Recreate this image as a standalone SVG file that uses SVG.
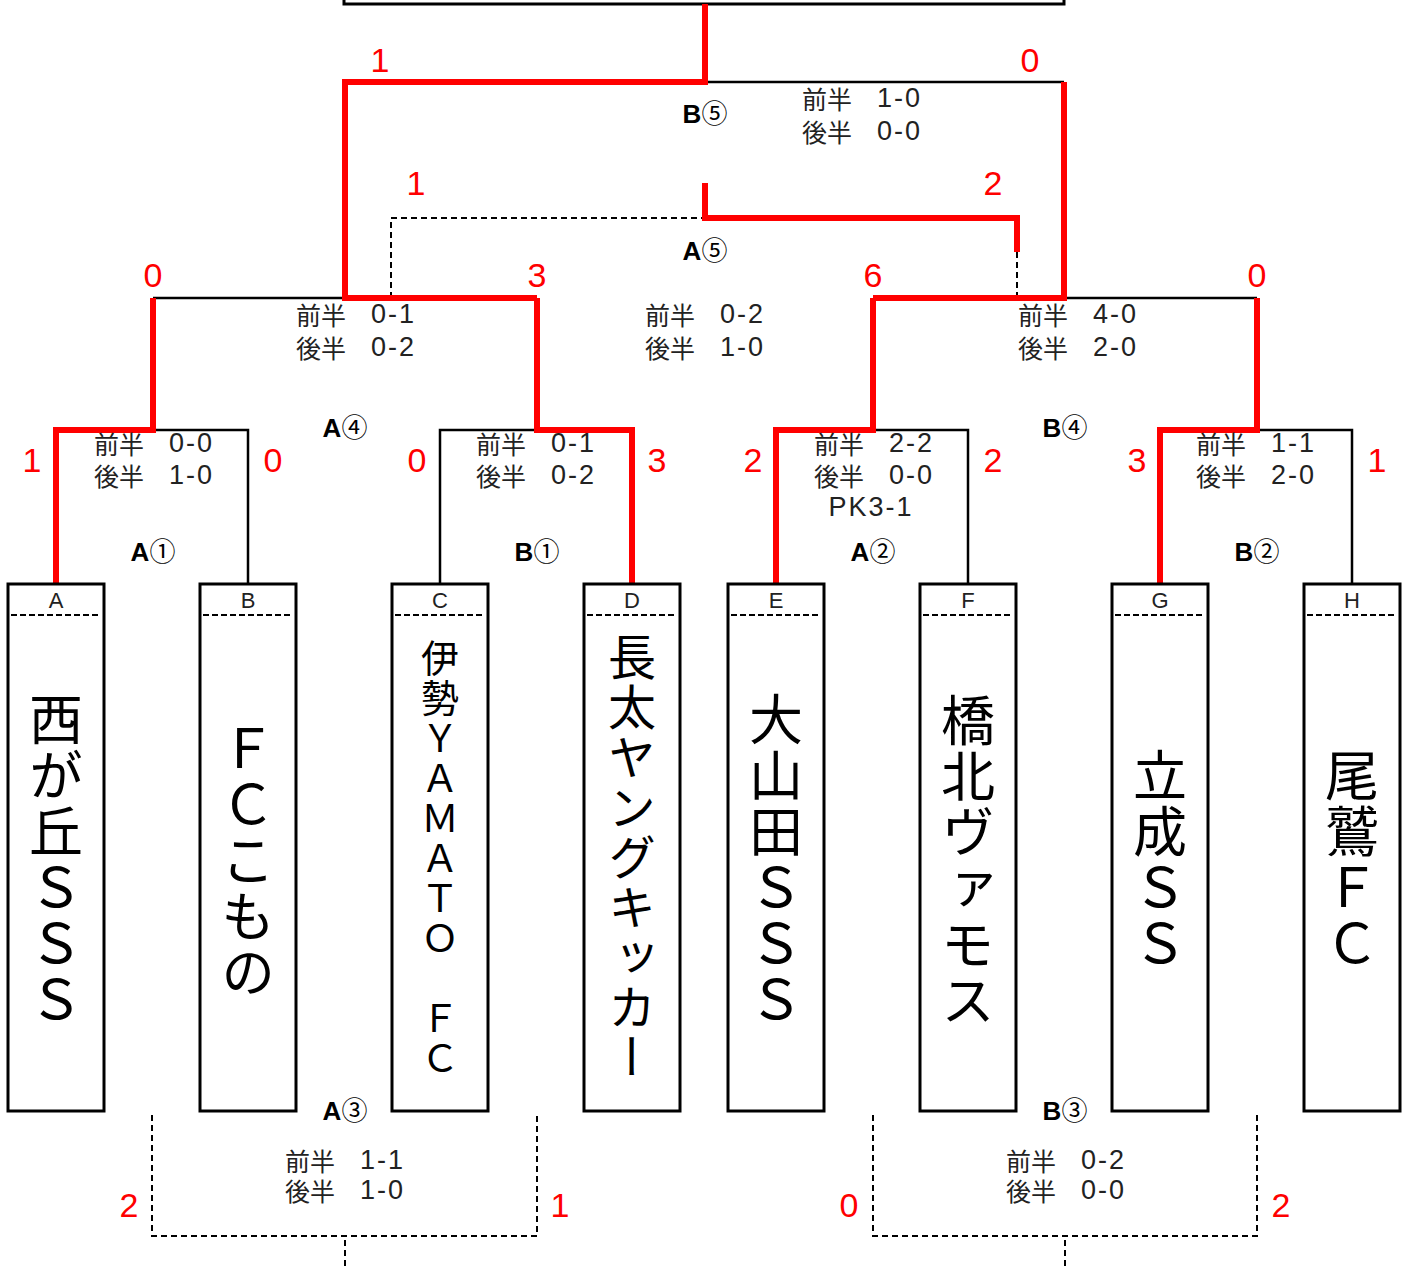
<svg xmlns="http://www.w3.org/2000/svg" width="1410" height="1269" viewBox="0 0 1410 1269">
<style>
.box{fill:#fff;stroke:#000;stroke-width:3}
.sep{stroke:#000;stroke-width:2;stroke-dasharray:6 3}
.blk{fill:none;stroke:#000;stroke-width:2.5}
.red{fill:none;stroke:#f00;stroke-width:6;stroke-linejoin:miter}
.dash{fill:none;stroke:#000;stroke-width:2;stroke-dasharray:6 4}
.rn{font-family:"Liberation Sans","Noto Sans",sans-serif;font-size:34px;fill:#f00;text-anchor:middle;dominant-baseline:central}
.lbl{font-family:"Liberation Sans","Noto Sans CJK JP",sans-serif;font-size:26px;fill:#000;text-anchor:middle;dominant-baseline:central}
.lbl tspan{font-weight:bold}
.sc{font-family:"Noto Sans CJK JP",sans-serif;font-size:25px;fill:#222;text-anchor:middle;dominant-baseline:central}
.sc tspan{font-family:"Liberation Sans",sans-serif;font-size:27px;letter-spacing:2px}
.tl{font-family:"Liberation Sans",sans-serif;font-size:22px;fill:#222;text-anchor:middle;dominant-baseline:central}
.nm{font-family:"Noto Sans CJK JP",sans-serif;fill:#000;writing-mode:vertical-rl;text-orientation:upright;letter-spacing:2px}
</style>

<g id="final-box">
<path class="blk" d="M344,0 V4 H1064 V0" style="stroke-width:3"/>
</g>

<g id="connectors">
<path class="blk" d="M705,82 H1064"/>
<path class="blk" d="M153,298 H345"/>
<path class="blk" d="M1064,298 H1257"/>
<path class="blk" d="M153,430 H248 V584"/>
<path class="blk" d="M440,584 V430 H537"/>
<path class="blk" d="M873,430 H968 V584"/>
<path class="blk" d="M1257,430 H1352 V584"/>
<path class="dash" d="M391,298 V218 H705"/>
<path class="dash" d="M1017,252 V298"/>
<path class="dash" d="M152,1115 V1236 H537 V1115"/>
<path class="dash" d="M345,1240 V1269"/>
<path class="dash" d="M873,1115 V1236 H1257 V1115"/>
<path class="dash" d="M1065,1240 V1269"/>
<path class="red" d="M705,4 V82 H345 V298 H537"/>
<path class="red" d="M1064,82 V298 H873"/>
<path class="red" d="M705,183 V218 H1017 V252"/>
<path class="red" d="M56,584 V430 H153 V298"/>
<path class="red" d="M537,298 V430 H632 V584"/>
<path class="red" d="M776,584 V430 H873 V298"/>
<path class="red" d="M1160,584 V430 H1257 V298"/>
</g>

<g id="match-labels">
<text class="lbl" x="705" y="114"><tspan>B</tspan>⑤</text>
<text class="lbl" x="705" y="251"><tspan>A</tspan>⑤</text>
<text class="lbl" x="345" y="428"><tspan>A</tspan>④</text>
<text class="lbl" x="1065" y="428"><tspan>B</tspan>④</text>
<text class="lbl" x="153" y="552"><tspan>A</tspan>①</text>
<text class="lbl" x="537" y="552"><tspan>B</tspan>①</text>
<text class="lbl" x="873" y="552"><tspan>A</tspan>②</text>
<text class="lbl" x="1257" y="552"><tspan>B</tspan>②</text>
<text class="lbl" x="345" y="1111"><tspan>A</tspan>③</text>
<text class="lbl" x="1065" y="1111"><tspan>B</tspan>③</text>
</g>

<g id="scores">
<text class="sc" x="862" y="98">前半　<tspan>1-0</tspan></text>
<text class="sc" x="862" y="131">後半　<tspan>0-0</tspan></text>
<text class="sc" x="356" y="314">前半　<tspan>0-1</tspan></text>
<text class="sc" x="356" y="347">後半　<tspan>0-2</tspan></text>
<text class="sc" x="705" y="314">前半　<tspan>0-2</tspan></text>
<text class="sc" x="705" y="347">後半　<tspan>1-0</tspan></text>
<text class="sc" x="1078" y="314">前半　<tspan>4-0</tspan></text>
<text class="sc" x="1078" y="347">後半　<tspan>2-0</tspan></text>
<text class="sc" x="154" y="443">前半　<tspan>0-0</tspan></text>
<text class="sc" x="154" y="475">後半　<tspan>1-0</tspan></text>
<text class="sc" x="536" y="443">前半　<tspan>0-1</tspan></text>
<text class="sc" x="536" y="475">後半　<tspan>0-2</tspan></text>
<text class="sc" x="874" y="443">前半　<tspan>2-2</tspan></text>
<text class="sc" x="874" y="475">後半　<tspan>0-0</tspan></text>
<text class="sc" x="871" y="507"><tspan>PK3-1</tspan></text>
<text class="sc" x="1256" y="443">前半　<tspan>1-1</tspan></text>
<text class="sc" x="1256" y="475">後半　<tspan>2-0</tspan></text>
<text class="sc" x="345" y="1160">前半　<tspan>1-1</tspan></text>
<text class="sc" x="345" y="1190">後半　<tspan>1-0</tspan></text>
<text class="sc" x="1066" y="1160">前半　<tspan>0-2</tspan></text>
<text class="sc" x="1066" y="1190">後半　<tspan>0-0</tspan></text>
</g>

<g id="goal-counts">
<text class="rn" x="380" y="60">1</text>
<text class="rn" x="1030" y="60">0</text>
<text class="rn" x="416" y="183">1</text>
<text class="rn" x="993" y="183">2</text>
<text class="rn" x="153" y="275">0</text>
<text class="rn" x="537" y="275">3</text>
<text class="rn" x="873" y="275">6</text>
<text class="rn" x="1257" y="275">0</text>
<text class="rn" x="32" y="460">1</text>
<text class="rn" x="273" y="460">0</text>
<text class="rn" x="417" y="460">0</text>
<text class="rn" x="657" y="460">3</text>
<text class="rn" x="753" y="460">2</text>
<text class="rn" x="993" y="460">2</text>
<text class="rn" x="1137" y="460">3</text>
<text class="rn" x="1377" y="460">1</text>
<text class="rn" x="129" y="1205">2</text>
<text class="rn" x="560" y="1205">1</text>
<text class="rn" x="849" y="1205">0</text>
<text class="rn" x="1281" y="1205">2</text>
</g>

<g id="team-A">
<rect class="box" x="8" y="584" width="96" height="527"/>
<line class="sep" x1="11" y1="615" x2="101" y2="615"/>
<text class="tl" x="56" y="600">A</text>
<text class="nm" x="56" y="692" font-size="54">西が丘ＳＳＳ</text>
</g>
<g id="team-B">
<rect class="box" x="200" y="584" width="96" height="527"/>
<line class="sep" x1="203" y1="615" x2="293" y2="615"/>
<text class="tl" x="248" y="600">B</text>
<text class="nm" x="248" y="721" font-size="54">ＦＣこもの</text>
</g>
<g id="team-C">
<rect class="box" x="392" y="584" width="96" height="527"/>
<line class="sep" x1="395" y1="615" x2="485" y2="615"/>
<text class="tl" x="440" y="600">C</text>
<text class="nm" x="440" y="639" font-size="38">伊勢ＹＡＭＡＴＯ　ＦＣ</text>
</g>
<g id="team-D">
<rect class="box" x="584" y="584" width="96" height="527"/>
<line class="sep" x1="587" y1="615" x2="677" y2="615"/>
<text class="tl" x="632" y="600">D</text>
<text class="nm" x="632" y="633" font-size="48">長太ヤングキッカー</text>
</g>
<g id="team-E">
<rect class="box" x="728" y="584" width="96" height="527"/>
<line class="sep" x1="731" y1="615" x2="821" y2="615"/>
<text class="tl" x="776" y="600">E</text>
<text class="nm" x="776" y="692" font-size="54">大山田ＳＳＳ</text>
</g>
<g id="team-F">
<rect class="box" x="920" y="584" width="96" height="527"/>
<line class="sep" x1="923" y1="615" x2="1013" y2="615"/>
<text class="tl" x="968" y="600">F</text>
<text class="nm" x="968" y="693" font-size="54">橋北ヴァモス</text>
</g>
<g id="team-G">
<rect class="box" x="1112" y="584" width="96" height="527"/>
<line class="sep" x1="1115" y1="615" x2="1205" y2="615"/>
<text class="tl" x="1160" y="600">G</text>
<text class="nm" x="1160" y="748" font-size="54">立成ＳＳ</text>
</g>
<g id="team-H">
<rect class="box" x="1304" y="584" width="96" height="527"/>
<line class="sep" x1="1307" y1="615" x2="1397" y2="615"/>
<text class="tl" x="1352" y="600">H</text>
<text class="nm" x="1352" y="748" font-size="54">尾鷲ＦＣ</text>
</g>
</svg>
